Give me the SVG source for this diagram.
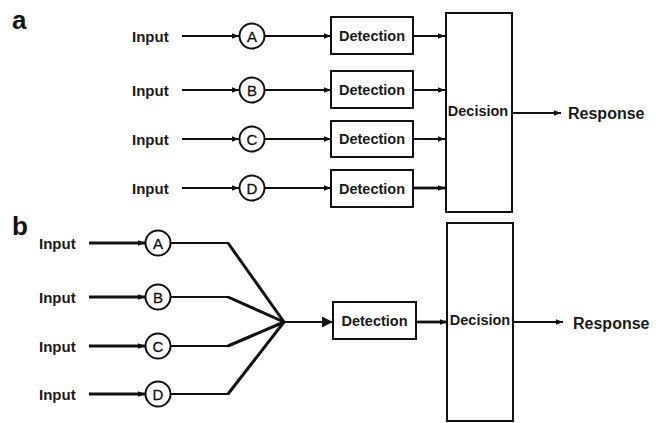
<svg xmlns="http://www.w3.org/2000/svg" width="659" height="423" viewBox="0 0 659 423">
  <style>
    .lbl { font-family: "Liberation Sans", Arial, sans-serif; font-weight: bold; fill: #1a1a1a; }
    .in { font-size: 15px; }
    .box { fill: #fff; stroke: #111; stroke-width: 2; }
    .txt { font-size: 14.5px; text-anchor: middle; dominant-baseline: central; }
    .lbl.let { font-size: 15px; text-anchor: middle; dominant-baseline: central; font-weight: normal; fill: #111; stroke: #111; stroke-width: 0.3; }
    .ln { fill: none; stroke: #111; stroke-width: 2; }
    .thick { stroke-width: 2.8; }
    .diag { fill: none; stroke: #111; stroke-width: 3; stroke-linejoin: round; }
    .panel { font-family: "Liberation Sans", Arial, sans-serif; font-weight: bold; font-size: 26px; fill: #111; }
  </style>
  <defs>
    <marker id="arr" viewBox="0 0 10 10" refX="10" refY="5" markerWidth="8" markerHeight="7" markerUnits="userSpaceOnUse" orient="auto">
      <path d="M0,1 L10,5 L0,9 z" fill="#111"/>
    </marker>
    <marker id="arrBig" viewBox="0 0 10 10" refX="10" refY="5" markerWidth="11" markerHeight="11" markerUnits="userSpaceOnUse" orient="auto">
      <path d="M0,0 L10,5 L0,10 z" fill="#111"/>
    </marker>
  </defs>
  <rect width="659" height="423" fill="#fff"/>

  <!-- panel labels -->
  <text class="panel" x="12" y="29">a</text>
  <text class="panel" x="12" y="235">b</text>

  <!-- ===== Panel a: parallel detection ===== -->
  <g id="connectors-a">
    <line class="ln" x1="182" y1="36" x2="239" y2="36" marker-end="url(#arr)"/>
    <line class="ln" x1="265" y1="36" x2="331" y2="36" marker-end="url(#arr)"/>
    <line class="ln" x1="413" y1="36" x2="445" y2="36" marker-end="url(#arr)"/>

    <line class="ln" x1="182" y1="90" x2="239" y2="90" marker-end="url(#arr)"/>
    <line class="ln" x1="265" y1="90" x2="331" y2="90" marker-end="url(#arr)"/>
    <line class="ln" x1="413" y1="90" x2="445" y2="90" marker-end="url(#arr)"/>

    <line class="ln" x1="182" y1="139" x2="239" y2="139" marker-end="url(#arr)"/>
    <line class="ln" x1="265" y1="139" x2="331" y2="139" marker-end="url(#arr)"/>
    <line class="ln" x1="413" y1="139" x2="445" y2="139" marker-end="url(#arr)"/>

    <line class="ln" x1="182" y1="188" x2="239" y2="188" marker-end="url(#arr)"/>
    <line class="ln" x1="265" y1="188" x2="331" y2="188" marker-end="url(#arr)"/>
    <line class="ln thick" x1="413" y1="188" x2="445" y2="188" marker-end="url(#arr)"/>

    <line class="ln" x1="512" y1="113" x2="561" y2="113" marker-end="url(#arr)"/>
  </g>

  <g id="a-input-1"><text class="lbl in" x="132" y="41.5">Input</text></g>
  <g id="a-input-2"><text class="lbl in" x="132" y="95.5">Input</text></g>
  <g id="a-input-3"><text class="lbl in" x="132" y="144.5">Input</text></g>
  <g id="a-input-4"><text class="lbl in" x="132" y="193.5">Input</text></g>

  <g id="a-node-A"><circle class="box" cx="252" cy="36" r="12.5"/><text class="lbl let" x="252" y="36.5">A</text></g>
  <g id="a-node-B"><circle class="box" cx="252" cy="90" r="12.5"/><text class="lbl let" x="252" y="90.5">B</text></g>
  <g id="a-node-C"><circle class="box" cx="252" cy="139" r="12.5"/><text class="lbl let" x="252" y="139.5">C</text></g>
  <g id="a-node-D"><circle class="box" cx="252" cy="188" r="12.5"/><text class="lbl let" x="252" y="188.5">D</text></g>

  <g id="a-detection-1"><rect class="box" x="331" y="17" width="82" height="37"/><text class="lbl txt" x="372" y="35.5">Detection</text></g>
  <g id="a-detection-2"><rect class="box" x="331" y="71" width="82" height="37"/><text class="lbl txt" x="372" y="89.5">Detection</text></g>
  <g id="a-detection-3"><rect class="box" x="331" y="121" width="82" height="36"/><text class="lbl txt" x="372" y="139">Detection</text></g>
  <g id="a-detection-4"><rect class="box" x="331" y="170" width="82" height="37"/><text class="lbl txt" x="372" y="188.5">Detection</text></g>

  <g id="a-decision"><rect class="box" x="446" y="13" width="66" height="199"/><text class="lbl txt" x="478" y="111" font-size="14">Decision</text></g>
  <g id="a-response"><text class="lbl" x="568" y="119" font-size="16" fill="#222">Response</text></g>

  <!-- ===== Panel b: pooled detection ===== -->
  <g id="connectors-b">
    <line class="ln thick" x1="89" y1="243" x2="145" y2="243" marker-end="url(#arr)"/>
    <line class="ln thick" x1="89" y1="297" x2="145" y2="297" marker-end="url(#arr)"/>
    <line class="ln thick" x1="89" y1="346" x2="145" y2="346" marker-end="url(#arr)"/>
    <line class="ln thick" x1="89" y1="394" x2="145" y2="394" marker-end="url(#arr)"/>

    <!-- horizontal runs out of each circle -->
    <line class="ln" x1="171" y1="243" x2="229" y2="243"/>
    <line class="ln" x1="171" y1="297" x2="229" y2="297"/>
    <line class="ln" x1="171" y1="346" x2="229" y2="346"/>
    <line class="ln" x1="171" y1="394" x2="229" y2="394"/>
    <!-- converging diagonals -->
    <polyline class="diag" points="228,243 284,322"/>
    <polyline class="diag" points="228,297 284,322"/>
    <polyline class="diag" points="228,346 284,322"/>
    <polyline class="diag" points="228,394 284,322"/>

    <line class="ln" x1="283" y1="322" x2="333" y2="322" stroke-width="3.5" marker-end="url(#arrBig)"/>
    <line class="ln thick" x1="416" y1="322" x2="447" y2="322" marker-end="url(#arr)"/>
    <line class="ln" x1="513" y1="322" x2="563" y2="322" marker-end="url(#arr)"/>
  </g>

  <g id="b-input-1"><text class="lbl in" x="39" y="248.5">Input</text></g>
  <g id="b-input-2"><text class="lbl in" x="39" y="302.5">Input</text></g>
  <g id="b-input-3"><text class="lbl in" x="39" y="351.5">Input</text></g>
  <g id="b-input-4"><text class="lbl in" x="39" y="399.5">Input</text></g>

  <g id="b-node-A"><circle class="box" cx="158" cy="243" r="12.5"/><text class="lbl let" x="158" y="243.5">A</text></g>
  <g id="b-node-B"><circle class="box" cx="158" cy="297" r="12.5"/><text class="lbl let" x="158" y="297.5">B</text></g>
  <g id="b-node-C"><circle class="box" cx="158" cy="346" r="12.5"/><text class="lbl let" x="158" y="346.5">C</text></g>
  <g id="b-node-D"><circle class="box" cx="158" cy="394" r="12.5"/><text class="lbl let" x="158" y="394.5">D</text></g>

  <g id="b-detection"><rect class="box" x="333" y="302" width="83" height="37"/><text class="lbl txt" x="374.5" y="321">Detection</text></g>
  <g id="b-decision"><rect class="box" x="447" y="223" width="66" height="198"/><text class="lbl txt" x="480" y="320" font-size="14">Decision</text></g>
  <g id="b-response"><text class="lbl" x="573" y="329" font-size="16" fill="#222">Response</text></g>
</svg>
